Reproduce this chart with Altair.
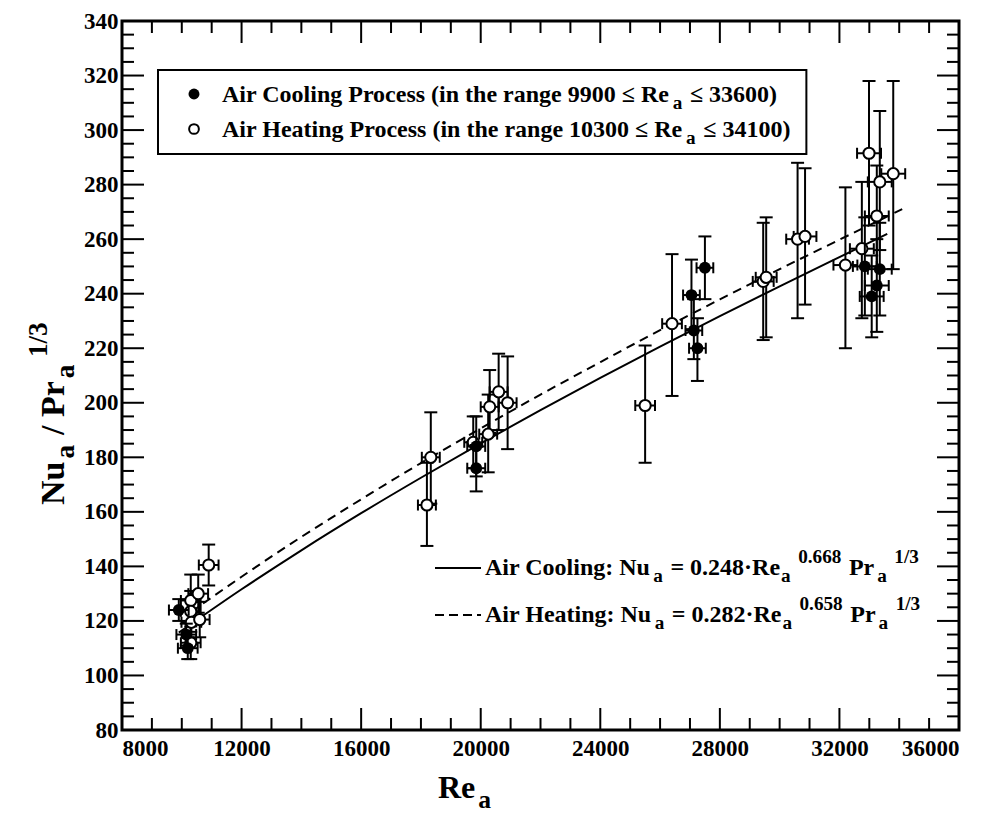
import altair as alt
import pandas as pd

# ---------------- data ----------------
# Air cooling (filled circles)
cool_re = [9900, 10150, 10200, 19850, 19850, 27050, 27130, 27250, 27500, 32850, 33350, 33250, 33080]
cool_nu = [124, 115, 110, 184, 176, 239.5, 226.5, 220, 249.5, 250, 249, 243, 239]
cool_lo = [120, 111, 106, 173, 167.5, 227, 216, 208, 238, 232, 232, 226, 224]
cool_hi = [128, 119, 114, 195, 184.5, 252.5, 238, 231, 261, 268, 266, 260, 254]
cool_dre = [330, 330, 330, 300, 300, 280, 280, 280, 280, 400, 400, 400, 400]

# Air heating (open circles)
heat_re = [10300, 10300, 10320, 10300, 10550, 10600, 10900, 18200, 18330, 19750, 20250, 20300, 20600,
           20900, 25500, 26400, 29450, 29550, 30600, 30850, 32200, 32750, 32990, 33250, 33350, 33800]
heat_nu = [127.5, 123.5, 119.5, 112, 130, 120.5, 140.5, 162.5, 180, 185.5, 188.5, 198.5, 204,
           200, 199, 229, 244.5, 246, 260, 261, 250.5, 256.5, 291.5, 268.5, 281, 284]
heat_lo = [119, 116, 112, 106, 123, 114, 133, 147.5, 163, 176, 174.5, 189, 190,
           183, 178, 202.5, 223, 224, 231, 236, 220, 231, 265, 250, 256, 249]
heat_hi = [137, 131, 127, 118, 137, 127, 148, 178, 196.5, 195, 203, 212, 218,
           217, 221, 254.5, 266, 268, 288, 286, 279, 281, 318, 287, 307, 318]
heat_dre = [330, 330, 330, 330, 330, 330, 330, 300, 300, 300, 300, 300, 300,
            300, 330, 330, 350, 350, 380, 380, 400, 400, 400, 400, 400, 400]

# correlation curves
cool_fit_re = [9900, 12000, 14000, 16000, 18000, 20000, 22000, 24000, 26000, 28000, 30000, 32000, 33600]
cool_fit_nu = [115.7, 131.6, 145.9, 159.5, 172.5, 185.1, 197.3, 209.1, 220.6, 231.8, 242.7, 253.4, 261.9]
heat_fit_re = [10300, 12000, 14000, 16000, 18000, 20000, 22000, 24000, 26000, 28000, 30000, 32000, 34100]
heat_fit_nu = [123.2, 136.2, 150.8, 164.6, 177.9, 190.6, 203.0, 214.9, 226.6, 237.9, 249.0, 259.8, 271.0]

# axis ticks / labels
x_major = [8000, 12000, 16000, 20000, 24000, 28000, 32000, 36000]
x_minor = [v for v in range(8000, 36001, 1000) if v not in x_major]
y_major = [80, 100, 120, 140, 160, 180, 200, 220, 240, 260, 280, 300, 320, 340]
y_minor = [v for v in range(80, 341, 5) if v not in y_major]

# ---------------- layout ----------------
W, H = 837, 709
PL, PT = 122, 21
FONT = "Liberation Serif"

GLYPH = {' ': 250, '(': 333, ')': 333, '/': 278, '.': 250, ':': 333, '=': 570, '·': 250, '≤': 549,
         'A': 722, 'C': 722, 'H': 778, 'N': 722, 'P': 611, 'R': 722,
         'a': 500, 'c': 444, 'e': 444, 'g': 500, 'h': 556, 'i': 278, 'l': 278, 'n': 556,
         'o': 500, 'r': 444, 's': 389, 't': 333, 'u': 556}


def tw(s, fs):
    return sum(GLYPH.get(c, 500) for c in s) * fs / 1000.0


def layout(runs, fs, small=0.8):
    rows, pos, prev = [], 0.0, 'main'
    for text, kind in runs:
        size = fs if kind == 'main' else fs * small
        off = 0.0 if kind == 'main' else (fs * 0.30 if kind == 'sub' else -fs * 0.50)
        if kind == 'sup' and prev == 'sub':
            pos += 6.0
        elif kind != 'main' and prev == 'main':
            pos += 3.0
        lead = len(text) - len(text.lstrip(' '))
        rows.append((text.strip(' '), pos + tw(' ' * lead, size), off, size))
        pos += tw(text, size) + (1.5 if kind != 'main' else 0.0)
        prev = kind
    return rows, pos


def text_df(runs, fs, x0, y0, rotated=False):
    rows, total = layout(runs, fs)
    recs = []
    for t, along, off, size in rows:
        if rotated:
            recs.append({'t': t, 'x': x0 + off, 'y': y0 - along, 'fs': size})
        else:
            recs.append({'t': t, 'x': x0 + along, 'y': y0 + off, 'fs': size})
    return pd.DataFrame(recs), total


def text_layer(df, angle=0):
    return alt.Chart(df).mark_text(font=FONT, fontWeight='bold', align='left', baseline='alphabetic',
                                   color='black', angle=angle).encode(
        x=alt.X('x:Q', scale=None, axis=None),
        y=alt.Y('y:Q', scale=None, axis=None),
        text='t:N',
        size=alt.Size('fs:Q', scale=None, legend=None))


xs = alt.Scale(domain=[8000, 36000], nice=False, zero=False)
ys = alt.Scale(domain=[80, 340], nice=False, zero=False)
xaxis = alt.Axis(values=x_major, format='d', ticks=False, domain=False, grid=False, labelFont=FONT,
                 labelFontWeight='bold', labelFontSize=23, labelColor='black', labelPadding=7,
                 labelOverlap=False, title=None)
yaxis = alt.Axis(values=y_major, format='d', ticks=False, domain=False, grid=False, labelFont=FONT,
                 labelFontWeight='bold', labelFontSize=23, labelColor='black', labelPadding=4,
                 labelOverlap=False, title=None)


def X(f):
    return alt.X(f + ':Q', scale=xs, axis=xaxis)


def Y(f):
    return alt.Y(f + ':Q', scale=ys, axis=yaxis)


layers = []

# inward ticks on all four sides
for vals, ln in ((y_major, 22), (y_minor, 12)):
    d = pd.DataFrame({'v': vals})
    layers.append(alt.Chart(d).mark_rule(color='black', strokeWidth=2).encode(
        y=Y('v'), x=alt.value(0), x2=alt.value(ln)))
    layers.append(alt.Chart(d).mark_rule(color='black', strokeWidth=2).encode(
        y=Y('v'), x=alt.value(W - ln), x2=alt.value(W)))
for vals, ln in ((x_major, 22), (x_minor, 12)):
    d = pd.DataFrame({'v': vals})
    layers.append(alt.Chart(d).mark_rule(color='black', strokeWidth=2).encode(
        x=X('v'), y=alt.value(H - ln), y2=alt.value(H)))
    layers.append(alt.Chart(d).mark_rule(color='black', strokeWidth=2).encode(
        x=X('v'), y=alt.value(0), y2=alt.value(ln)))

# fit curves
cool_fit = pd.DataFrame({'re': cool_fit_re, 'nu': cool_fit_nu})
heat_fit = pd.DataFrame({'re': heat_fit_re, 'nu': heat_fit_nu})
layers.append(alt.Chart(cool_fit).mark_line(color='black', strokeWidth=2, interpolate='monotone').encode(
    x=X('re'), y=Y('nu')))
layers.append(alt.Chart(heat_fit).mark_line(color='black', strokeWidth=2, strokeDash=[9, 6],
                                            interpolate='monotone').encode(x=X('re'), y=Y('nu')))


def series_layers(re, nu, lo, hi, dre, filled):
    d = pd.DataFrame({'re': re, 'nu': nu, 'lo': lo, 'hi': hi})
    d['xlo'] = [a - b for a, b in zip(re, dre)]
    d['xhi'] = [a + b for a, b in zip(re, dre)]
    c = alt.Chart(d)
    out = [
        c.mark_rule(color='black', strokeWidth=2).encode(x=X('re'), y=Y('lo'), y2='hi:Q'),
        c.mark_tick(orient='horizontal', size=13, thickness=2, color='black', opacity=1).encode(x=X('re'), y=Y('lo')),
        c.mark_tick(orient='horizontal', size=13, thickness=2, color='black', opacity=1).encode(x=X('re'), y=Y('hi')),
        c.mark_rule(color='black', strokeWidth=2).encode(x=X('xlo'), x2='xhi:Q', y=Y('nu')),
        c.mark_tick(orient='vertical', size=11, thickness=2, color='black', opacity=1).encode(x=X('xlo'), y=Y('nu')),
        c.mark_tick(orient='vertical', size=11, thickness=2, color='black', opacity=1).encode(x=X('xhi'), y=Y('nu')),
    ]
    if filled:
        out.append(c.mark_circle(color='black', size=140, opacity=1).encode(x=X('re'), y=Y('nu')))
    else:
        out.append(c.mark_circle(fill='white', stroke='black', strokeWidth=2, size=125, opacity=1).encode(
            x=X('re'), y=Y('nu')))
    return out


layers += series_layers(heat_re, heat_nu, heat_lo, heat_hi, heat_dre, False)
layers += series_layers(cool_re, cool_nu, cool_lo, cool_hi, cool_dre, True)

# legend box
LFS = 24
leg1, w1 = text_df([("Air Cooling Process (in the range 9900 ≤ Re", 'main'), ("a", 'sub'),
                    (" ≤ 33600)", 'main')], LFS, 222 - PL, 102 - PT)
leg2, w2 = text_df([("Air Heating Process (in the range 10300 ≤ Re", 'main'), ("a", 'sub'),
                    (" ≤ 34100)", 'main')], LFS, 222 - PL, 137 - PT)
box_r = 222 - PL + max(w1, w2) + 16
one = pd.DataFrame({'k': [0]})
layers.append(alt.Chart(one).mark_rect(fill='white', stroke='black', strokeWidth=2).encode(
    x=alt.value(158 - PL), x2=alt.value(box_r), y=alt.value(70 - PT), y2=alt.value(154 - PT)))
layers.append(alt.Chart(one).mark_circle(color='black', size=120, opacity=1).encode(
    x=alt.value(194 - PL), y=alt.value(94 - PT)))
layers.append(alt.Chart(one).mark_circle(fill='white', stroke='black', strokeWidth=2, size=95, opacity=1).encode(
    x=alt.value(194 - PL), y=alt.value(129 - PT)))
layers.append(text_layer(leg1))
layers.append(text_layer(leg2))

# correlation annotations
EFS = 24
eq1, _ = text_df([("Air Cooling: Nu", 'main'), ("a", 'sub'), (" = 0.248·Re", 'main'), ("a", 'sub'),
                  ("0.668", 'sup'), (" Pr", 'main'), ("a", 'sub'), ("1/3", 'sup')], EFS, 485 - PL, 575 - PT)
eq2, _ = text_df([("Air Heating: Nu", 'main'), ("a", 'sub'), (" = 0.282·Re", 'main'), ("a", 'sub'),
                  ("0.658", 'sup'), (" Pr", 'main'), ("a", 'sub'), ("1/3", 'sup')], EFS, 485 - PL, 622 - PT)
layers.append(alt.Chart(one).mark_rule(color='black', strokeWidth=2).encode(
    x=alt.value(435 - PL), x2=alt.value(481 - PL), y=alt.value(568 - PT)))
layers.append(alt.Chart(one).mark_rule(color='black', strokeWidth=2, strokeDash=[9, 5]).encode(
    x=alt.value(435 - PL), x2=alt.value(481 - PL), y=alt.value(615 - PT)))
layers.append(text_layer(eq1))
layers.append(text_layer(eq2))

# axis titles
xt, _ = text_df([("Re", 'main'), ("a", 'sub')], 32, 438 - PL, 798 - PT)
yt, _ = text_df([("Nu", 'main'), ("a", 'sub'), (" / Pr", 'main'), ("a", 'sub'), ("1/3", 'sup')],
                34, 64 - PL, 505 - PT, rotated=True)
layers.append(text_layer(xt))
layers.append(text_layer(yt, angle=270))

chart = alt.layer(*layers).properties(
    width=W, height=H,
    padding={'left': PL, 'top': PT, 'right': 990 - PL - W, 'bottom': 816 - PT - H},
    autosize=alt.AutoSizeParams(type='none'),
    background='white'
).configure_view(stroke='black', strokeWidth=3)

chart.save("out.html", embed_options={"renderer": "svg", "actions": False})
